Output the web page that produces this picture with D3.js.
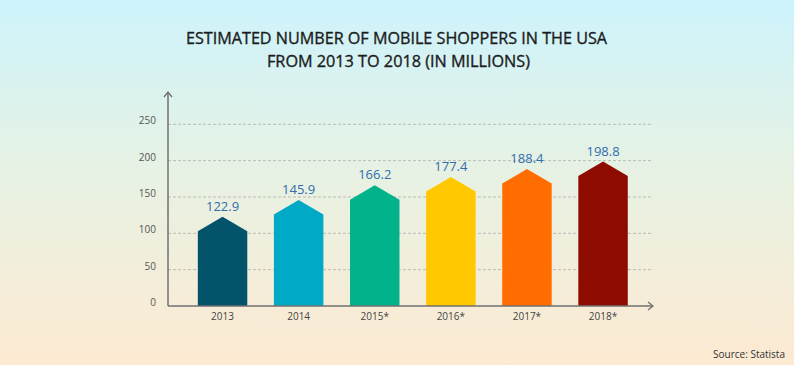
<!DOCTYPE html>
<html><head><meta charset="utf-8">
<script src="https://cdn.jsdelivr.net/npm/d3@7"></script>
<style>html,body{margin:0;padding:0;overflow:hidden;}svg{display:block;}</style>
</head><body>
<svg id="chart" width="794" height="365"></svg>
<script>
const categories = ["2013", "2014", "2015*", "2016*", "2017*", "2018*"];
const values = [122.9, 145.9, 166.2, 177.4, 188.4, 198.8];
const barColors = ["#03536b", "#00a9c5", "#00b38a", "#ffc800", "#ff6c00", "#8e0b00"];
const yTicks = [0, 50, 100, 150, 200, 250];
const titleLines = ["ESTIMATED NUMBER OF MOBILE SHOPPERS IN THE USA", "FROM 2013 TO 2018 (IN MILLIONS)"];
const sourceText = "Source: Statista";

const svg = d3.select("#chart");
const W = 794, H = 365;
const defs = svg.append("defs");
const grad = defs.append("linearGradient").attr("id", "bg").attr("x1", 0).attr("y1", 0).attr("x2", 0).attr("y2", 1);
grad.append("stop").attr("offset", "0%").attr("stop-color", "#cdf3fc");
grad.append("stop").attr("offset", "45%").attr("stop-color", "#e6f2e4");
grad.append("stop").attr("offset", "100%").attr("stop-color", "#fdead2");
svg.append("rect").attr("width", W).attr("height", H).attr("fill", "url(#bg)");

const font = "'Open Sans', 'Noto Sans', sans-serif";

// title
svg.selectAll("text.title").data(titleLines).enter().append("text")
  .attr("class", "title")
  .attr("x", (d, i) => i === 0 ? 396.5 : 398.5)
  .attr("y", (d, i) => i === 0 ? 43.5 : 66.5)
  .attr("text-anchor", "middle")
  .attr("font-family", font).attr("font-size", 16).attr("font-weight", 400)
  .attr("fill", "#1c1c1c").attr("stroke", "#1c1c1c").attr("stroke-width", 0.35)
  .attr("textLength", (d, i) => i === 0 ? 421 : 263)
  .attr("lengthAdjust", "spacingAndGlyphs")
  .text(d => d);

const x0 = 168, xEnd = 653, yBase = 306;
const x = d3.scaleBand().domain(categories).range([184.5, 641.1]).paddingInner(0.35).paddingOuter(0.175);
const y = d3.scaleLinear().domain([0, 250]).range([yBase, 124.3]);

// gridlines
svg.append("g").selectAll("line").data(yTicks.filter(t => t > 0)).enter().append("line")
  .attr("x1", x0).attr("x2", xEnd)
  .attr("y1", d => y(d)).attr("y2", d => y(d))
  .attr("stroke", "#b9bcb6").attr("stroke-width", 1).attr("stroke-dasharray", "3,2");

// y tick labels
svg.append("g").selectAll("text").data(yTicks).enter().append("text")
  .attr("x", 156).attr("y", d => y(d) - 3.5).attr("dy", "0.35em")
  .attr("text-anchor", "end")
  .attr("font-family", font).attr("font-size", 10).attr("fill", "#555")
  .text(d => d);

// bars (arrow-shaped)
const shoulder = 14.5;
const bw = x.bandwidth();
svg.append("g").selectAll("path").data(values).enter().append("path")
  .attr("d", (d, i) => {
    const xl = x(categories[i]), xr = xl + bw, xc = xl + bw / 2, yt = y(d);
    return `M${xl},${yBase}L${xl},${yt + shoulder}L${xc},${yt}L${xr},${yt + shoulder}L${xr},${yBase}Z`;
  })
  .attr("fill", (d, i) => barColors[i]);

// value labels
svg.append("g").selectAll("text").data(values).enter().append("text")
  .attr("x", (d, i) => x(categories[i]) + bw / 2)
  .attr("y", d => y(d) - 6)
  .attr("text-anchor", "middle")
  .attr("font-family", font).attr("font-size", 13).attr("fill", "#2f6db0")
  .text(d => d.toFixed(1));

// x labels
svg.append("g").selectAll("text").data(categories).enter().append("text")
  .attr("x", d => x(d) + bw / 2).attr("y", 320)
  .attr("text-anchor", "middle")
  .attr("font-family", font).attr("font-size", 10).attr("fill", "#444")
  .text(d => d);

// axes
const axisColor = "#707070";
svg.append("line").attr("x1", x0).attr("x2", x0).attr("y1", yBase).attr("y2", 92)
  .attr("stroke", axisColor).attr("stroke-width", 1.5);
svg.append("path").attr("d", `M${x0 - 4},${97}L${x0},${92}L${x0 + 4},${97}`)
  .attr("fill", "none").attr("stroke", axisColor).attr("stroke-width", 1.3);
svg.append("line").attr("x1", x0).attr("x2", xEnd).attr("y1", yBase).attr("y2", yBase)
  .attr("stroke", axisColor).attr("stroke-width", 1.5);
svg.append("path").attr("d", `M${xEnd - 5},${yBase - 4}L${xEnd},${yBase}L${xEnd - 5},${yBase + 4}`)
  .attr("fill", "none").attr("stroke", axisColor).attr("stroke-width", 1.3);

// source
svg.append("text").attr("x", 785).attr("y", 358).attr("text-anchor", "end")
  .attr("font-family", font).attr("font-size", 10).attr("fill", "#333")
  .text(sourceText);
</script>
</body></html>
